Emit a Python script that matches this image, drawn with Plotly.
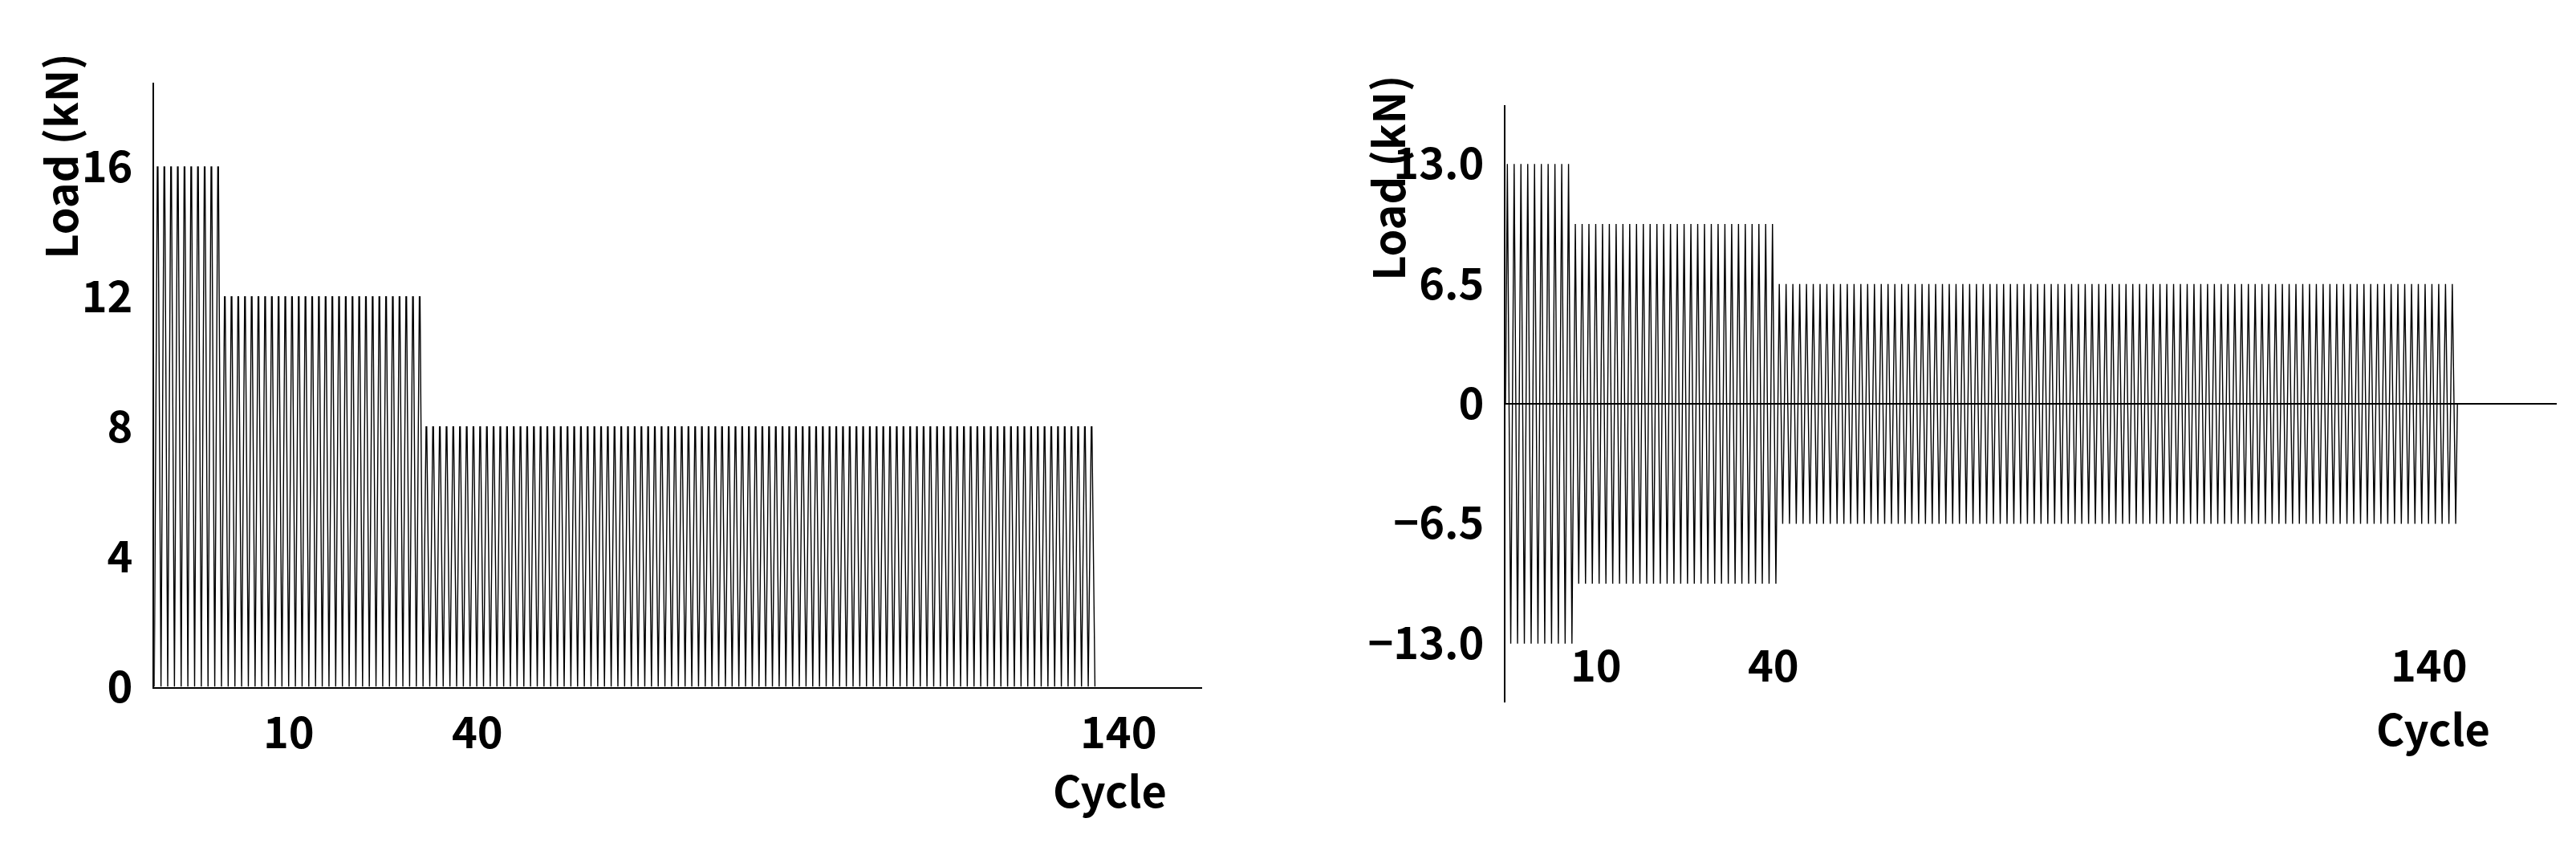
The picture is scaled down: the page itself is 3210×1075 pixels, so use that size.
import plotly.graph_objects as go

# data
left_levels = [16, 12, 8]          # kN peak per stage (pulsating)
right_levels = [13.0, 9.75, 6.5]   # kN amplitude per stage (reversed)
stage_cycles = [10, 30, 100]       # cycles per stage
x_tick_vals = [10, 40, 140]
left_yticks = [0, 4, 8, 12, 16]
right_yticks = [-13.0, -6.5, 0, 6.5, 13.0]
right_yticklabels = ["\u221213.0", "\u22126.5", "0", "6.5", "13.0"]

# build waveforms from stage data
lx, ly, rx, ry = [], [], [], []
c = 0
for A, B, n in zip(left_levels, right_levels, stage_cycles):
    for k in range(n):
        i = c + k
        lx += [i, i + 0.45, i + 0.55, i + 1]
        ly += [0, A, A, 0]
        rx += [i, i + 0.25, i + 0.75, i + 1]
        ry += [0, B, -B, 0]
    c += n

F = "Noto Sans CJK KR"
fig = go.Figure()
fig.add_trace(go.Scatter(x=lx, y=ly, mode="lines", line=dict(color="black", width=1.4),
                         xaxis="x", yaxis="y", showlegend=False, hoverinfo="skip"))
fig.add_trace(go.Scatter(x=rx, y=ry, mode="lines", line=dict(color="black", width=1.4),
                         xaxis="x2", yaxis="y2", showlegend=False, hoverinfo="skip"))

tickfont = dict(family=F, size=54, color="black", weight="bold")
fig.update_layout(
    width=3210, height=1075, paper_bgcolor="white", plot_bgcolor="white",
    margin=dict(l=0, r=0, t=0, b=0),
    xaxis=dict(domain=[0.0574, 0.4643], range=[0, 156], showgrid=False, zeroline=False,
               showticklabels=False, showline=True, linecolor="black", linewidth=2),
    yaxis=dict(domain=[0.185, 0.909], range=[0, 18.6], showgrid=False, zeroline=False,
               showline=True, linecolor="black", linewidth=2, tickvals=left_yticks,
               ticks="", tickfont=tickfont, ticklabelstandoff=14),
    xaxis2=dict(domain=[0.582, 0.990], range=[0, 154.6], showgrid=False, zeroline=False,
                showticklabels=False, showline=False, anchor="y2"),
    yaxis2=dict(domain=[0.166, 0.882], range=[-16.2, 16.2], showgrid=False, zeroline=True,
                zerolinecolor="black", zerolinewidth=2, showline=True, linecolor="black",
                linewidth=2, tickvals=right_yticks, ticktext=right_yticklabels, ticks="",
                tickfont=tickfont, anchor="x2", ticklabelstandoff=14),
)

ann = []
lpos = [0.1097, 0.183, 0.4317]
rpos = [0.617, 0.686, 0.9406]
for v, p in zip(x_tick_vals, lpos):
    ann.append(dict(x=p, y=0.134, xref="paper", yref="paper", text=str(v), showarrow=False,
                    xanchor="center", yanchor="middle", font=tickfont))
for v, p in zip(x_tick_vals, rpos):
    ann.append(dict(x=p, y=0.214, xref="paper", yref="paper", text=str(v), showarrow=False,
                    xanchor="center", yanchor="middle", font=tickfont))
ann.append(dict(x=0.4285, y=0.063, xref="paper", yref="paper", text="Cycle", showarrow=False,
                xanchor="center", yanchor="middle", font=tickfont))
ann.append(dict(x=0.942, y=0.137, xref="paper", yref="paper", text="Cycle", showarrow=False,
                xanchor="center", yanchor="middle", font=tickfont))
ann.append(dict(x=0.0204, y=0.821, xref="paper", yref="paper", text="Load (kN)", textangle=-90,
                xanchor="center", yanchor="middle", showarrow=False, font=tickfont))
ann.append(dict(x=0.5357, y=0.794, xref="paper", yref="paper", text="Load (kN)", textangle=-90,
                xanchor="center", yanchor="middle", showarrow=False, font=tickfont))
fig.update_layout(annotations=ann)
fig.write_html("out.html")
